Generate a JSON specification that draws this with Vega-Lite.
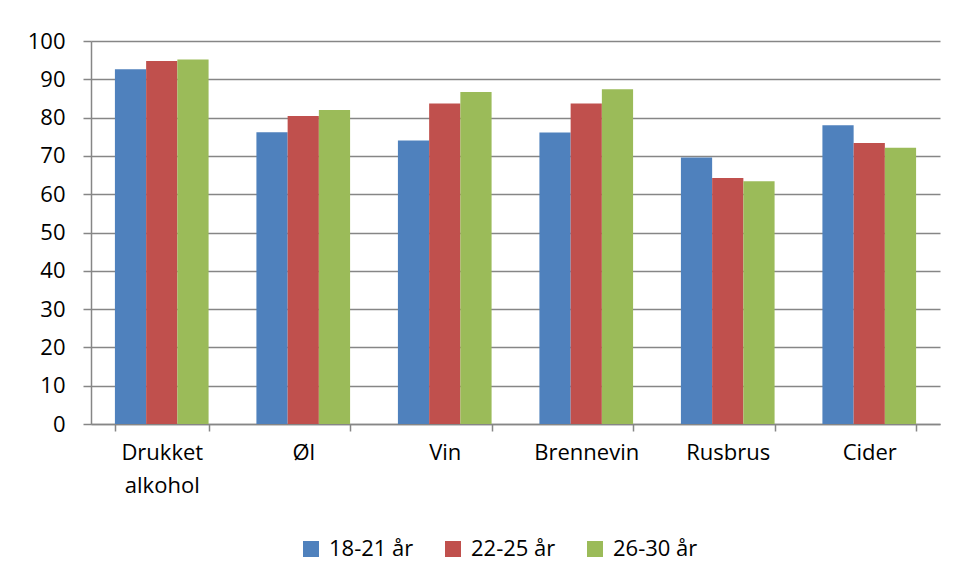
{
  "$schema": "https://vega.github.io/schema/vega-lite/v6.json",
  "width": 849,
  "height": 383,
  "autosize": "none",
  "padding": {"left": 91, "top": 41, "right": 18, "bottom": 155},
  "background": "white",
  "config": {
    "view": {"stroke": null},
    "font": "Open Sans",
    "axis": {
      "labelFont": "Open Sans",
      "labelFontSize": 22,
      "labelColor": "#000000",
      "domainColor": "#868686",
      "domainWidth": 1.5,
      "tickColor": "#868686",
      "tickWidth": 1.5,
      "gridColor": "#868686",
      "gridWidth": 1.5
    }
  },
  "data": {
    "values": [
      {"kategori": "Drukket alkohol", "alder": "18-21 år", "prosent": 92.6},
      {"kategori": "Drukket alkohol", "alder": "22-25 år", "prosent": 94.8},
      {"kategori": "Drukket alkohol", "alder": "26-30 år", "prosent": 95.2},
      {"kategori": "Øl", "alder": "18-21 år", "prosent": 76.2},
      {"kategori": "Øl", "alder": "22-25 år", "prosent": 80.4},
      {"kategori": "Øl", "alder": "26-30 år", "prosent": 82.0},
      {"kategori": "Vin", "alder": "18-21 år", "prosent": 74.0},
      {"kategori": "Vin", "alder": "22-25 år", "prosent": 83.7},
      {"kategori": "Vin", "alder": "26-30 år", "prosent": 86.7},
      {"kategori": "Brennevin", "alder": "18-21 år", "prosent": 76.1},
      {"kategori": "Brennevin", "alder": "22-25 år", "prosent": 83.7},
      {"kategori": "Brennevin", "alder": "26-30 år", "prosent": 87.4},
      {"kategori": "Rusbrus", "alder": "18-21 år", "prosent": 69.6},
      {"kategori": "Rusbrus", "alder": "22-25 år", "prosent": 64.2},
      {"kategori": "Rusbrus", "alder": "26-30 år", "prosent": 63.4},
      {"kategori": "Cider", "alder": "18-21 år", "prosent": 78.0},
      {"kategori": "Cider", "alder": "22-25 år", "prosent": 73.4},
      {"kategori": "Cider", "alder": "26-30 år", "prosent": 72.1}
    ]
  },
  "mark": {"type": "bar"},
  "encoding": {
    "x": {
      "field": "kategori",
      "type": "nominal",
      "sort": ["Drukket alkohol", "Øl", "Vin", "Brennevin", "Rusbrus", "Cider"],
      "scale": {"paddingInner": 0.338, "paddingOuter": 0.169},
      "axis": {
        "title": null,
        "labelAngle": 0,
        "tickBand": "extent",
        "tickSize": 7,
        "labelPadding": 11,
        "labelLineHeight": 33,
        "labelExpr": "split(datum.label, ' ')",
        "grid": false
      }
    },
    "xOffset": {
      "field": "alder",
      "type": "nominal",
      "scale": {"paddingInner": 0, "paddingOuter": 0}
    },
    "y": {
      "field": "prosent",
      "type": "quantitative",
      "scale": {"domain": [0, 100], "nice": false},
      "axis": {
        "title": null,
        "values": [0, 10, 20, 30, 40, 50, 60, 70, 80, 90, 100],
        "tickSize": 8,
        "labelPadding": 18,
        "grid": true
      }
    },
    "color": {
      "field": "alder",
      "type": "nominal",
      "scale": {
        "domain": ["18-21 år", "22-25 år", "26-30 år"],
        "range": ["#4F81BD", "#C0504D", "#9BBB59"]
      },
      "legend": {
        "title": null,
        "orient": "none",
        "direction": "horizontal",
        "legendX": 209,
        "legendY": 497,
        "symbolType": "square",
        "symbolSize": 256,
        "symbolStrokeWidth": 0,
        "symbolOpacity": 1,
        "labelFont": "Open Sans",
        "labelFontSize": 22,
        "labelColor": "#000000",
        "labelOffset": 7,
        "columnPadding": 28
      }
    }
  }
}
